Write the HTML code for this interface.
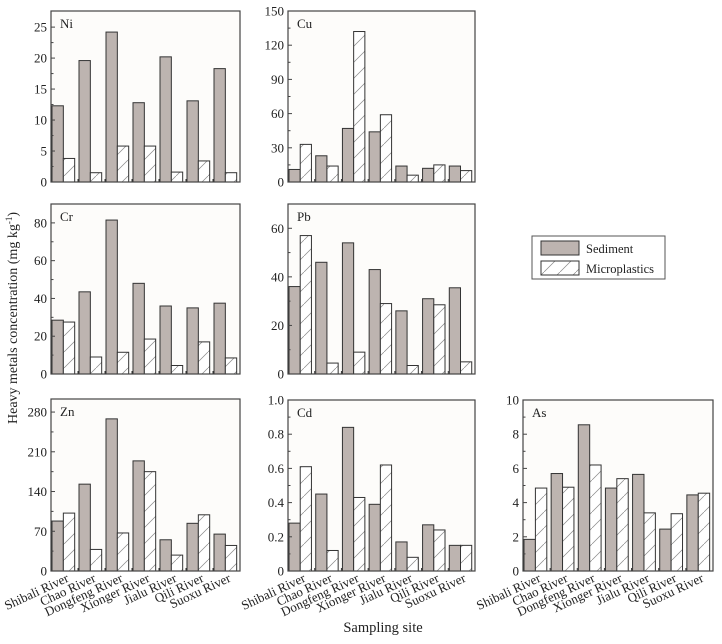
<!DOCTYPE html>
<html><head><meta charset="utf-8"><style>
body{margin:0;background:#fff;}
svg{display:block;font-family:"Liberation Serif",serif;}
</style></head><body>
<svg id="c" width="722" height="644" xmlns="http://www.w3.org/2000/svg">
<defs>
<pattern id="hatch" patternUnits="userSpaceOnUse" width="16" height="16">
<rect width="16" height="16" fill="#fff"/>
<path d="M0,16 L16,0" stroke="#888" stroke-width="0.7"/>
</pattern>
</defs>
</svg>
<script>
const sites = ["Shibali River","Chao River","Dongfeng River","Xionger River","Jialu River","Qili River","Suoxu River"];
const niSed = [12.3,19.6,24.2,12.8,20.2,13.1,18.3];
const niMic = [3.8,1.5,5.8,5.8,1.6,3.4,1.5];
const cuSed = [11,23,47,44,14,12,14];
const cuMic = [33,14,132,59,6,15,10];
const crSed = [28.5,43.5,81.5,48,36,35,37.5];
const crMic = [27.5,9,11.5,18.5,4.5,17,8.5];
const pbSed = [36,46,54,43,26,31,35.5];
const pbMic = [57,4.5,9,29,3.5,28.5,5];
const znSed = [88,153,268,194,55,84,65];
const znMic = [102,38,67,175,28,99,45];
const cdSed = [0.28,0.45,0.84,0.39,0.17,0.27,0.15];
const cdMic = [0.61,0.12,0.43,0.62,0.08,0.24,0.15];
const asSed = [1.85,5.7,8.55,4.85,5.65,2.45,4.45];
const asMic = [4.85,4.9,6.2,5.4,3.4,3.35,4.55];
const niTicks = [0,5,10,15,20,25];
const cuTicks = [0,30,60,90,120,150];
const crTicks = [0,20,40,60,80];
const pbTicks = [0,20,40,60];
const znTicks = [0,70,140,210,280];
const cdTicks = ["0","0.2","0.4","0.6","0.8","1.0"];
const asTicks = [0,2,4,6,8,10];

const svg = document.getElementById('c');
const NS = "http://www.w3.org/2000/svg";
function mk(tag, attrs, parent){
  const e = document.createElementNS(NS, tag);
  for (const k in attrs) e.setAttribute(k, attrs[k]);
  (parent||svg).appendChild(e);
  return e;
}
const panels = [
  {name:"ni",label:"Ni",x0:51,x1:240,y0:11,y1:182,max:27.6,ticks:niTicks,sed:niSed,mic:niMic,xl:false},
  {name:"cu",label:"Cu",x0:288,x1:475,y0:11,y1:182,max:150,ticks:cuTicks,sed:cuSed,mic:cuMic,xl:false},
  {name:"cr",label:"Cr",x0:51,x1:240,y0:204,y1:374,max:90,ticks:crTicks,sed:crSed,mic:crMic,xl:false},
  {name:"pb",label:"Pb",x0:288,x1:475,y0:204,y1:374,max:70,ticks:pbTicks,sed:pbSed,mic:pbMic,xl:false},
  {name:"zn",label:"Zn",x0:51,x1:240,y0:399,y1:571,max:303,ticks:znTicks,sed:znSed,mic:znMic,xl:true},
  {name:"cd",label:"Cd",x0:288,x1:475,y0:400,y1:571,max:1.0,ticks:cdTicks,sed:cdSed,mic:cdMic,xl:true},
  {name:"as",label:"As",x0:523,x1:713,y0:400,y1:571,max:10,ticks:asTicks,sed:asSed,mic:asMic,xl:true}
];
panels.forEach(p=>{
  const g = mk('g',{});
  
  
  const ys = v => p.y1 - (parseFloat(v)/p.max)*(p.y1-p.y0);
  mk('rect',{x:p.x0,y:p.y0,width:p.x1-p.x0,height:p.y1-p.y0,fill:"#fdfcfa",stroke:"none"},g);
  const gw = (p.x1-p.x0)/sites.length;
  const bw = gw*0.42;
  sites.forEach((s,i)=>{
    const gx = p.x0 + i*gw + 1;
    const sv = p.sed[i], mv = p.mic[i];
    const r1 = mk('rect',{x:gx,y:ys(sv),width:bw,height:p.y1-ys(sv),fill:"#bdb4b0",stroke:"#333",'stroke-width':1},g);
    
    
    const r2 = mk('rect',{x:gx+bw,y:ys(mv),width:bw,height:p.y1-ys(mv),fill:"url(#hatch)",stroke:"#333",'stroke-width':1},g);
    
    
    if(i>0) mk('line',{x1:p.x0+i*gw,x2:p.x0+i*gw,y1:p.y1,y2:p.y1-3,stroke:"#333"},g);
    if(p.xl){
      const cx = p.x0 + i*gw + gw/2 + 5, cy = p.y1 + 10;
      const t = mk('text',{x:cx,y:cy,'font-size':13,'text-anchor':'end',fill:"#222",transform:`rotate(-25 ${cx} ${cy})`},g);
      t.textContent = s;
      
      
    }
  });
  mk('rect',{x:p.x0,y:p.y0,width:p.x1-p.x0,height:p.y1-p.y0,fill:"none",stroke:"#444",'stroke-width':1.2},g);
  p.ticks.forEach((tv,k)=>{
    const y = ys(tv);
    mk('line',{x1:p.x0,x2:p.x0+4,y1:y,y2:y,stroke:"#444"},g);
    if(k<p.ticks.length-1){
      const ym = (y+ys(p.ticks[k+1]))/2;
      mk('line',{x1:p.x0,x2:p.x0+2.5,y1:ym,y2:ym,stroke:"#444"},g);
    }
    const t = mk('text',{x:p.x0-4,y:y+4.5,'font-size':13,'text-anchor':'end',fill:"#222"},g);
    t.textContent = tv;
    
    
  });
  const lt = mk('text',{x:p.x0+9,y:p.y0+17,'font-size':13,fill:"#222"},g);
  lt.textContent = p.label;
  
  
});
// legend
const lg = mk('g',{});


mk('rect',{x:532,y:236,width:133,height:43,fill:"#fff",stroke:"#555"},lg);
mk('rect',{x:541,y:241,width:38,height:14,fill:"#bdb4b0",stroke:"#333"},lg);
mk('rect',{x:541,y:261,width:38,height:14,fill:"url(#hatch)",stroke:"#333"},lg);
const t1 = mk('text',{x:586,y:253,'font-size':12.5,fill:"#222"},lg); t1.textContent="Sediment";


const t2 = mk('text',{x:586,y:273,'font-size':12.5,fill:"#222"},lg); t2.textContent="Microplastics";


// axis titles
const yt = mk('text',{x:17,y:318,'font-size':14,'text-anchor':'middle',fill:"#222",transform:"rotate(-90 17 318)"});
yt.innerHTML = 'Heavy metals concentration (mg kg<tspan baseline-shift="super" font-size="9">-1</tspan>)';


const xt = mk('text',{x:383,y:632,'font-size':14.5,'text-anchor':'middle',fill:"#222"});
xt.textContent = "Sampling site";


</script>
</body></html>
